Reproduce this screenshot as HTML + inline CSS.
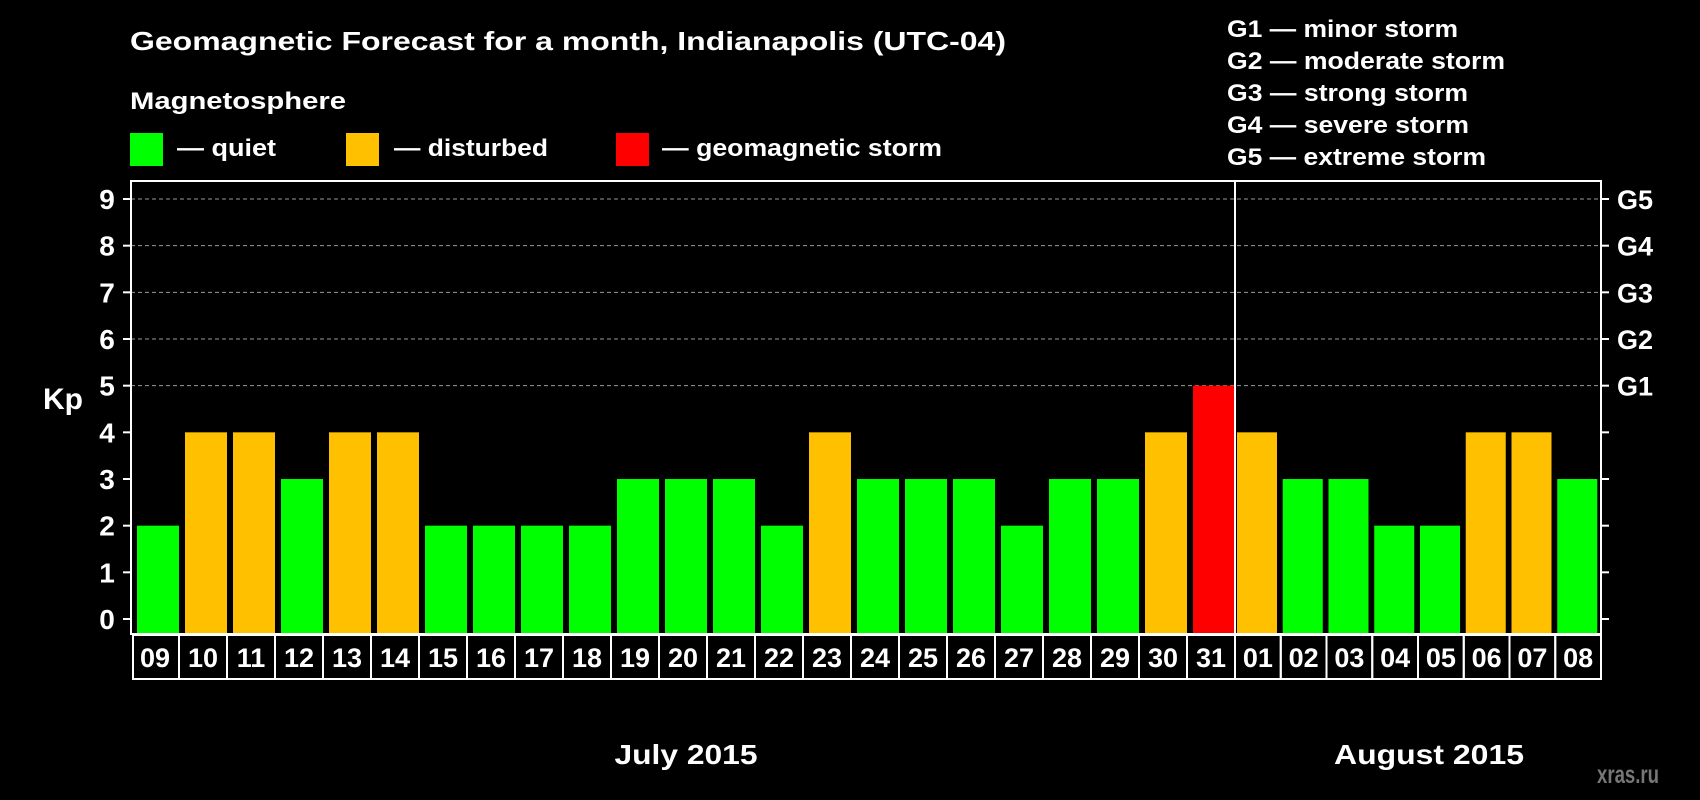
<!DOCTYPE html>
<html><head><meta charset="utf-8"><style>
body{margin:0;background:#000;width:1700px;height:800px;overflow:hidden}
svg{display:block;font-family:"Liberation Sans",sans-serif;font-weight:bold}
</style></head><body>
<svg id="c" width="1700" height="800">
<text x="130" y="50" fill="#fff" font-size="26" textLength="876" lengthAdjust="spacingAndGlyphs">Geomagnetic Forecast for a month, Indianapolis (UTC-04)</text>
<text x="130" y="109" fill="#fff" font-size="24" textLength="216" lengthAdjust="spacingAndGlyphs">Magnetosphere</text>
<rect x="130" y="133" width="33" height="33" fill="#00ff00"/>
<text x="177" y="156" fill="#fff" font-size="24" textLength="99" lengthAdjust="spacingAndGlyphs">— quiet</text>
<rect x="346" y="133" width="33" height="33" fill="#ffc000"/>
<text x="394" y="156" fill="#fff" font-size="24" textLength="154" lengthAdjust="spacingAndGlyphs">— disturbed</text>
<rect x="616" y="133" width="33" height="33" fill="#ff0000"/>
<text x="662" y="156" fill="#fff" font-size="24" textLength="280" lengthAdjust="spacingAndGlyphs">— geomagnetic storm</text>
<g fill="#fff" font-size="24">
<text x="1227" y="37" textLength="231" lengthAdjust="spacingAndGlyphs">G1 — minor storm</text>
<text x="1227" y="69" textLength="278" lengthAdjust="spacingAndGlyphs">G2 — moderate storm</text>
<text x="1227" y="101" textLength="241" lengthAdjust="spacingAndGlyphs">G3 — strong storm</text>
<text x="1227" y="133" textLength="242" lengthAdjust="spacingAndGlyphs">G4 — severe storm</text>
<text x="1227" y="165" textLength="259" lengthAdjust="spacingAndGlyphs">G5 — extreme storm</text>
</g>
<text x="63" y="409" fill="#fff" font-size="30" text-anchor="middle">Kp</text>
<g id="plot"></g>
<text x="686" y="764" fill="#fff" font-size="28" text-anchor="middle" textLength="143" lengthAdjust="spacingAndGlyphs">July 2015</text>
<text x="1429" y="764" fill="#fff" font-size="28" text-anchor="middle" textLength="190" lengthAdjust="spacingAndGlyphs">August 2015</text>
<text x="1659" y="783" fill="#777" font-size="25" text-anchor="end" textLength="62" lengthAdjust="spacingAndGlyphs">xras.ru</text>
</svg>
<script>
const days=["09","10","11","12","13","14","15","16","17","18","19","20","21","22","23","24","25","26","27","28","29","30","31","01","02","03","04","05","06","07","08"];
const kp=[2,4,4,3,4,4,2,2,2,2,3,3,3,2,4,3,3,3,2,3,3,4,5,4,3,3,2,2,4,4,3];
const yTicks=[0,1,2,3,4,5,6,7,8,9];
const gLabels=["G1","G2","G3","G4","G5"];
const ns="http://www.w3.org/2000/svg";
const g=document.getElementById('plot');
const L=131,R=1601,T=181,B=634,DIV=1235,julyN=23;
const n=days.length;
function y(v){return 619-v*(420/9);}
function slotX(i){return i<julyN? L+i*(DIV-L)/julyN : DIV+(i-julyN)*(R-DIV)/(n-julyN);}
function slotW(i){return i<julyN?(DIV-L)/julyN:(R-DIV)/(n-julyN);}
function el(t,a){const e=document.createElementNS(ns,t);for(const k in a)e.setAttribute(k,a[k]);g.appendChild(e);return e;}
yTicks.forEach(v=>{
 if(v>=5){const l=el('line',{x1:L,x2:R,y1:y(v),y2:y(v),stroke:'#999','stroke-dasharray':'4,3','stroke-width':1});
 
 }
 const t1=el('line',{x1:L-8,x2:L,y1:y(v),y2:y(v),stroke:'#fff','stroke-width':2});
 
 
 const t2=el('line',{x1:R,x2:R+8,y1:y(v),y2:y(v),stroke:'#fff','stroke-width':2});
 
 
 const tx=el('text',{x:107,y:y(v)+10,fill:'#fff','font-size':28,'text-anchor':'middle'});tx.textContent=v;
 
 
});
gLabels.forEach((s,i)=>{const t=el('text',{x:1617,y:y(5+i)+10,fill:'#fff','font-size':27});t.textContent=s;
 
 });
kp.forEach((v,i)=>{
 const x=slotX(i),w=slotW(i);
 const c=v>=5?'#ff0000':v>=4?'#ffc000':'#00ff00';
 const r=el('rect',{x:x+(i<julyN?6:2),y:y(v),width:i<julyN?42:40,height:B-y(v),fill:c});
 
 
 const b=el('rect',{x:x+(i==0?2:0),y:635,width:w-(i==0?2:0),height:44,fill:'none',stroke:'#fff','stroke-width':2});
 
 
 const t=el('text',{x:x+w/2,y:667,fill:'#fff','font-size':27,'text-anchor':'middle'});t.textContent=days[i];
 
 
});
const f=el('rect',{x:L,y:T,width:R-L,height:B-T,fill:'none',stroke:'#fff','stroke-width':2});


const d=el('line',{x1:DIV,x2:DIV,y1:T,y2:B,stroke:'#fff','stroke-width':2});


</script>
</body></html>
